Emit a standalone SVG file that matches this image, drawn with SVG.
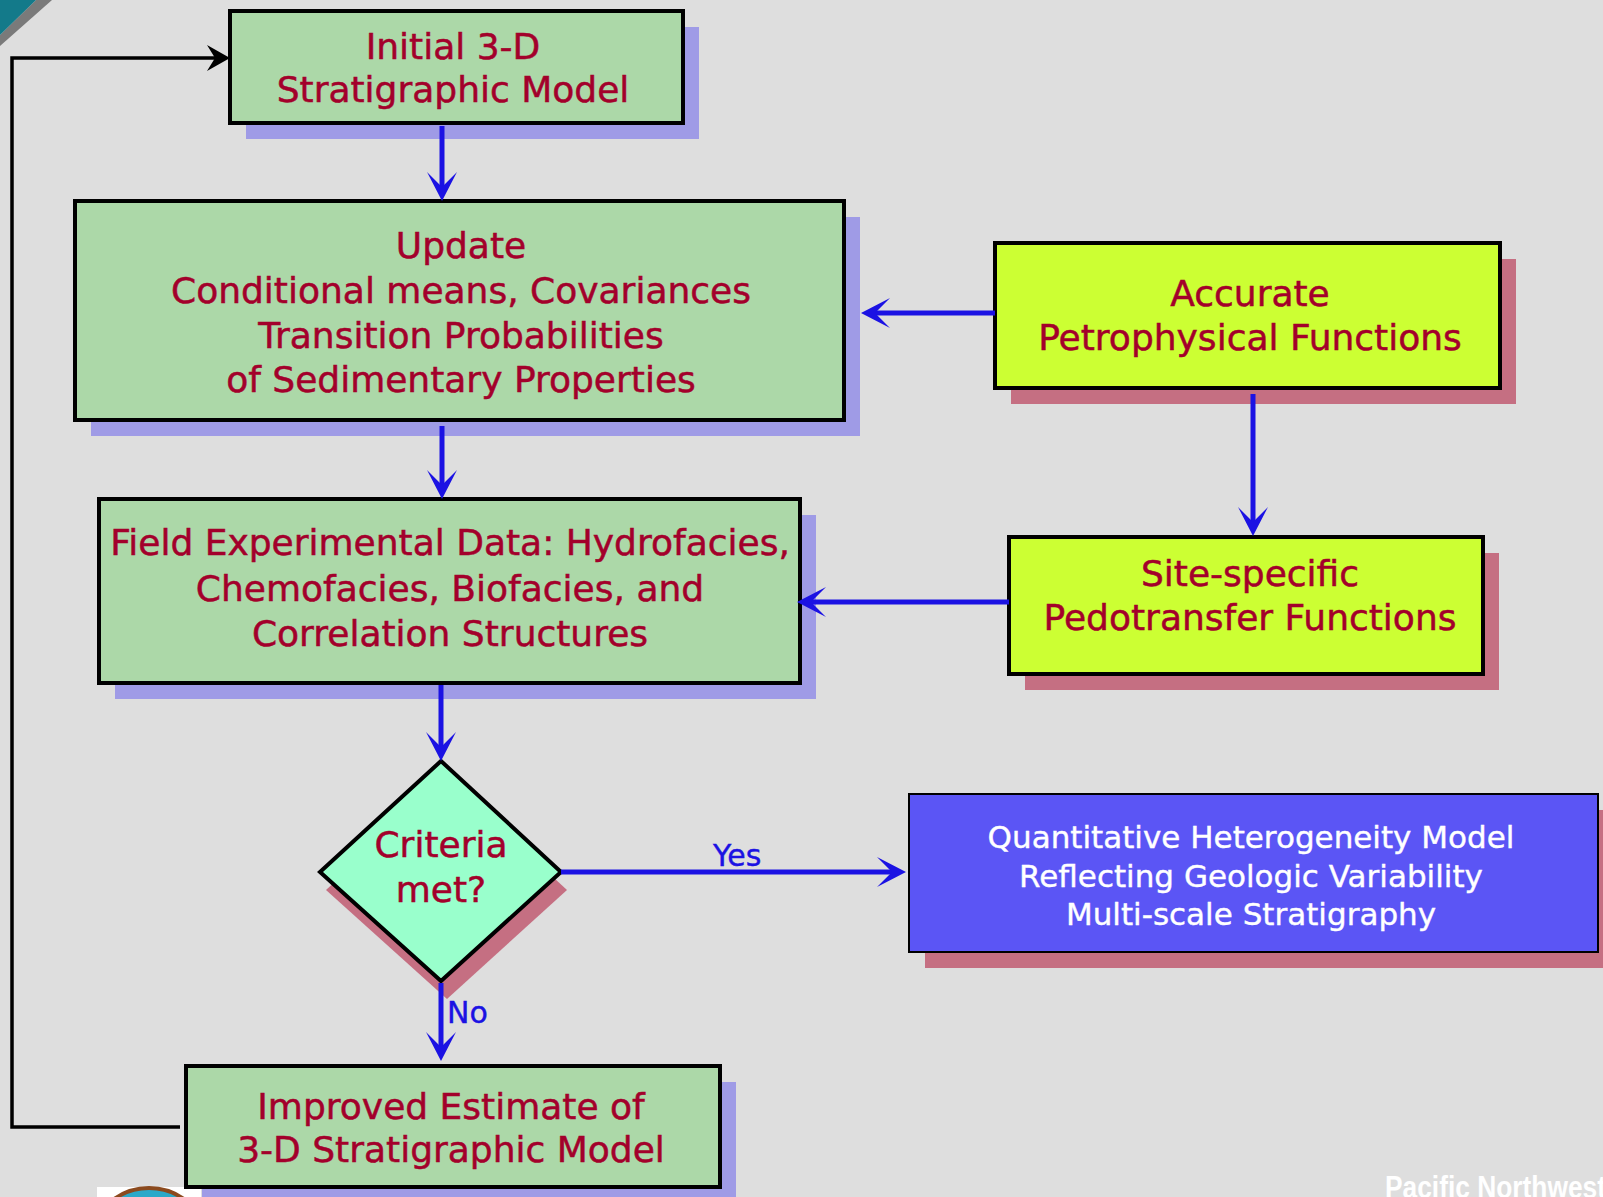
<svg xmlns="http://www.w3.org/2000/svg" width="1603" height="1197" viewBox="0 0 1603 1197">
<style>
.bg{fill:#DEDEDE}
.box{stroke:#000;stroke-width:4}
.green{fill:#ACD8A8}
.yellow{fill:#CCFF33}
.mint{fill:#99FFCC}
.blue{fill:#5B55F5;stroke:#000;stroke-width:2}
.shL{fill:#9F9BE6}
.shP{fill:#C56F82}
.t{font-family:"DejaVu Sans",Verdana,sans-serif;font-size:36px;fill:#A3002B;stroke:#A3002B;stroke-width:0.5;text-anchor:middle}
.tw{font-family:"DejaVu Sans",Verdana,sans-serif;font-size:31px;fill:#FFFFFF;stroke:#FFFFFF;stroke-width:0.4;text-anchor:middle}
.lab{font-family:"DejaVu Sans",Verdana,sans-serif;font-size:30px;fill:#1B12E3;stroke:#1B12E3;stroke-width:0.4}
.con{fill:none;stroke:#1B12E3;stroke-width:5}
.loop{fill:none;stroke:#000;stroke-width:3.5}
</style>
<defs>
<marker id="ab" markerUnits="userSpaceOnUse" markerWidth="40" markerHeight="40" viewBox="-25 -20 40 40" refX="0" refY="0" orient="auto" overflow="visible">
<path d="M10,0 L-19,-15 L-4,0 L-19,15 Z" fill="#1B12E3"/>
</marker>
<marker id="ak" markerUnits="userSpaceOnUse" markerWidth="40" markerHeight="40" viewBox="-20 -20 40 40" refX="0" refY="0" orient="auto" overflow="visible">
<path d="M8,0 L-15,-13 L-7,0 L-15,13 Z" fill="#000"/>
</marker>
</defs>
<rect class="bg" x="0" y="0" width="1603" height="1197"/>
<g id="decor">
<polygon points="36,0 52,0 0,46 0,35" fill="#7A7A7A"/>
<polygon points="0,0 36,0 0,35" fill="#137A8A"/>
<rect x="97" y="1187" width="104" height="10" fill="#FFFFFF"/>
<circle cx="149" cy="1248" r="60" fill="#2AA9C9" stroke="#8B4A1E" stroke-width="4"/>
<text x="1385" y="1198" transform="translate(1385 0) scale(0.85 1) translate(-1385 0)" font-family="'Liberation Sans',Arial,sans-serif" font-weight="bold" font-size="31" fill="#FFFFFF">Pacific Northwest</text>
</g>
<g id="n1">
<rect class="shL" x="246" y="27" width="453" height="112"/>
<rect class="box green" x="230" y="11" width="453" height="112"/>
<text class="t" x="453" y="59">Initial 3-D</text>
<text class="t" x="453" y="102">Stratigraphic Model</text>
</g>
<g id="n2">
<rect class="shL" x="91" y="217" width="769" height="219"/>
<rect class="box green" x="75" y="201" width="769" height="219"/>
<text class="t" x="461" y="258">Update</text>
<text class="t" x="461" y="303">Conditional means, Covariances</text>
<text class="t" x="461" y="348">Transition Probabilities</text>
<text class="t" x="461" y="392">of Sedimentary Properties</text>
</g>
<g id="n3">
<rect class="shP" x="1011" y="259" width="505" height="145"/>
<rect class="box yellow" x="995" y="243" width="505" height="145"/>
<text class="t" x="1250" y="306">Accurate</text>
<text class="t" x="1250" y="350">Petrophysical Functions</text>
</g>
<g id="n4">
<rect class="shP" x="1025" y="553" width="474" height="137"/>
<rect class="box yellow" x="1009" y="537" width="474" height="137"/>
<text class="t" x="1250" y="586">Site-specific</text>
<text class="t" x="1250" y="630">Pedotransfer Functions</text>
</g>
<g id="n5">
<rect class="shL" x="115" y="515" width="701" height="184"/>
<rect class="box green" x="99" y="499" width="701" height="184"/>
<text class="t" x="450" y="555">Field Experimental Data: Hydrofacies,</text>
<text class="t" x="450" y="601">Chemofacies, Biofacies, and</text>
<text class="t" x="450" y="646">Correlation Structures</text>
</g>
<g id="n6">
<polygon class="shP" points="447,779 567,890 447,999 326,890"/>
<polygon class="box mint" points="441,761 561,872 441,981 320,872"/>
<text class="t" x="441" y="857">Criteria</text>
<text class="t" x="441" y="902">met?</text>
</g>
<g id="n7">
<rect class="shP" x="925" y="810" width="689" height="158"/>
<rect class="blue" x="909" y="794" width="689" height="158"/>
<text class="tw" x="1251" y="848">Quantitative Heterogeneity Model</text>
<text class="tw" x="1251" y="887">Reflecting Geologic Variability</text>
<text class="tw" x="1251" y="925">Multi-scale Stratigraphy</text>
</g>
<g id="n8">
<rect class="shL" x="202" y="1082" width="534" height="121"/>
<rect class="box green" x="186" y="1066" width="534" height="121"/>
<text class="t" x="451" y="1119">Improved Estimate of</text>
<text class="t" x="451" y="1162">3-D Stratigraphic Model</text>
</g>
<g id="connectors">
<line class="con" x1="442" y1="126" x2="442" y2="191" marker-end="url(#ab)"/>
<line class="con" x1="995" y1="313" x2="871" y2="313" marker-end="url(#ab)"/>
<line class="con" x1="442" y1="426" x2="442" y2="489" marker-end="url(#ab)"/>
<line class="con" x1="1253" y1="394" x2="1253" y2="526" marker-end="url(#ab)"/>
<line class="con" x1="1009" y1="602" x2="807" y2="602" marker-end="url(#ab)"/>
<line class="con" x1="441" y1="685" x2="441" y2="751" marker-end="url(#ab)"/>
<line class="con" x1="561" y1="872" x2="896" y2="872" marker-end="url(#ab)"/>
<line class="con" x1="441" y1="983" x2="441" y2="1051" marker-end="url(#ab)"/>
<polyline class="loop" points="180,1127 12,1127 12,58 222,58" marker-end="url(#ak)"/>
<text class="lab" x="713" y="866">Yes</text>
<text class="lab" x="447" y="1023">No</text>
</g>
</svg>
